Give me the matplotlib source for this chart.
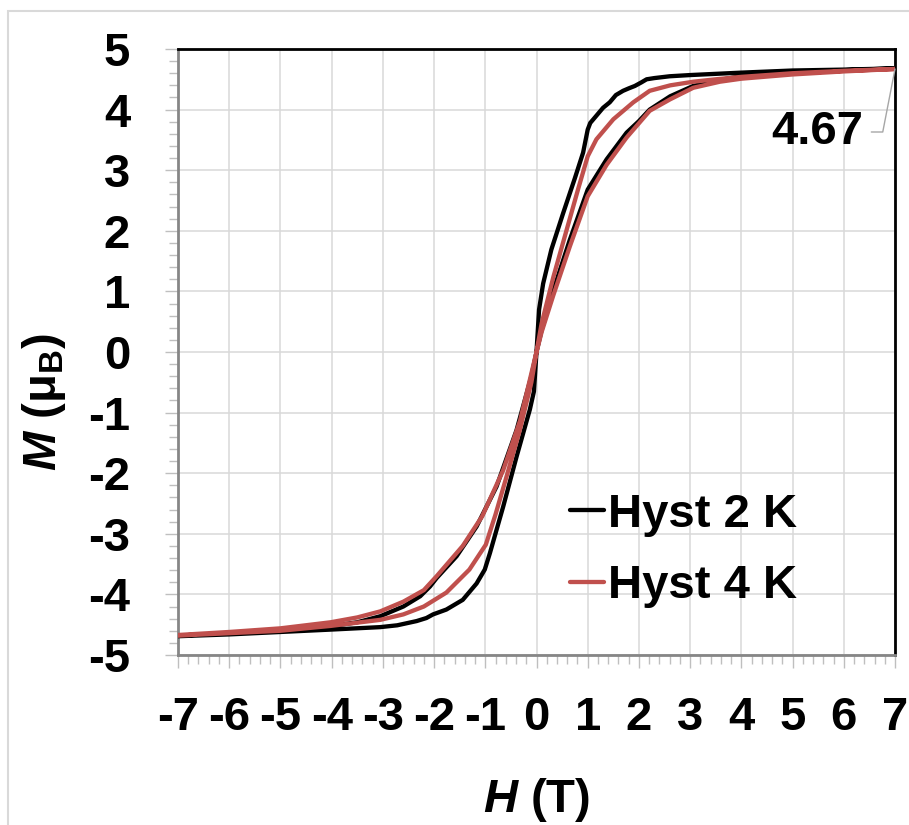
import numpy as np
import matplotlib
matplotlib.use("Agg")
import matplotlib.pyplot as plt
from matplotlib.ticker import MultipleLocator
from matplotlib.patches import Rectangle

plt.rcParams['font.family'] = ['Liberation Sans', 'DejaVu Sans']
plt.rcParams['font.weight'] = 'bold'
plt.rcParams['axes.unicode_minus'] = False
plt.rcParams['mathtext.fontset'] = 'custom'
plt.rcParams['mathtext.rm'] = 'Liberation Sans:bold'
plt.rcParams['mathtext.it'] = 'Liberation Sans:italic:bold'
plt.rcParams['mathtext.bf'] = 'Liberation Sans:bold'

# 2 K loop: field sweep 7 T -> -7 T, then back up to 7 T
h_2k_down = [7, 6, 5, 4, 3.5, 3, 2.6, 2.3, 2.15, 2.05, 1.92, 1.8, 1.69, 1.55, 1.43, 1.3,
             1.16, 1.05, 1.0, 0.91, 0.75, 0.52, 0.29, 0.13, 0.05, 0.0,
             -0.1, -0.39, -0.78, -1.17, -1.56, -1.95, -2.08, -2.27, -2.6, -3.05, -3.5,
             -4, -5, -6, -7]
m_2k_down = [4.68, 4.66, 4.645, 4.61, 4.59, 4.57, 4.55, 4.52, 4.50, 4.45, 4.39, 4.35, 4.31, 4.24, 4.12, 4.03,
             3.89, 3.78, 3.67, 3.29, 2.87, 2.29, 1.69, 1.13, 0.70, 0.0,
             -0.40, -1.29, -2.22, -2.88, -3.37, -3.73, -3.87, -4.03, -4.20, -4.36, -4.46,
             -4.52, -4.59, -4.64, -4.68]
h_2k_up = [-7, -6, -5, -4, -3.05, -2.72, -2.34, -2.15, -2.02, -1.76, -1.44, -1.17, -1.01, -0.91,
           -0.65, -0.39, -0.13, -0.05, 0.0,
           0.1, 0.33, 0.65, 1.0, 1.37, 1.76, 2.0, 2.21, 2.61, 3.06, 3.58, 4, 5, 6, 7]
m_2k_up = [-4.69, -4.66, -4.62, -4.58, -4.54, -4.51, -4.44, -4.39, -4.33, -4.25, -4.09, -3.82, -3.59, -3.32,
           -2.55, -1.73, -0.95, -0.65, 0.0,
           0.36, 1.02, 1.85, 2.68, 3.18, 3.62, 3.81, 4.00, 4.22, 4.39, 4.49, 4.55, 4.61, 4.65, 4.68]

# 4 K loop
h_4k_down = [7, 6, 5, 4, 3.5, 3.06, 2.61, 2.21, 1.89, 1.5, 1.17, 1.0, 0.81, 0.59, 0.33, 0.1, 0.0,
             -0.32, -0.65, -1.06, -1.44, -1.95, -2.2, -2.6, -3.05, -3.5, -4.02, -5, -6, -7]
m_4k_down = [4.67, 4.64, 4.60, 4.54, 4.50, 4.46, 4.40, 4.31, 4.12, 3.84, 3.51, 3.23, 2.68, 2.02, 1.24, 0.47, 0.0,
             -1.13, -1.95, -2.71, -3.20, -3.70, -3.93, -4.12, -4.28, -4.38, -4.46, -4.56, -4.62, -4.67]
h_4k_up = [-7, -6, -5, -4.02, -3.05, -2.6, -2.2, -1.76, -1.31, -0.99, -0.8, -0.6, -0.33, -0.1, 0.0,
           0.1, 0.33, 0.65, 1.0, 1.37, 1.76, 2.21, 2.61, 3.06, 3.58, 4, 5, 6, 7]
m_4k_up = [-4.68, -4.64, -4.60, -4.52, -4.42, -4.33, -4.20, -3.97, -3.59, -3.18, -2.68, -2.10, -1.30, -0.50, 0.0,
           0.33, 0.94, 1.74, 2.57, 3.09, 3.54, 3.98, 4.17, 4.36, 4.46, 4.51, 4.58, 4.63, 4.67]

labels = ["Hyst 2 K", "Hyst 4 K"]
colors = ["black", "#C0504D"]
m_sat = 4.67

FS = 34

fig = plt.figure(figsize=(9.09, 8.25), dpi=100)
W, H = 909, 825
ax = fig.add_axes([178 / W, 1 - 655 / H, (895 - 178) / W, (655 - 49) / H])

loops = [(h_2k_down + h_2k_up, m_2k_down + m_2k_up),
         (h_4k_down + h_4k_up, m_4k_down + m_4k_up)]
for (h, m), lab, c in zip(loops, labels, colors):
    ax.plot(h, m, color=c, lw=3.1, label=lab,
            solid_joinstyle='round', solid_capstyle='round', zorder=3)

ax.set_xlim(-7, 7)
ax.set_ylim(-5, 5)
ax.set_xticks(np.arange(-7, 8, 1))
ax.set_yticks(np.arange(-5, 6, 1))
ax.xaxis.set_minor_locator(MultipleLocator(0.2))
ax.yaxis.set_minor_locator(MultipleLocator(0.2))
ax.grid(True, which='major', color='#d9d9d9', lw=1.1, zorder=0)
ax.set_axisbelow(True)

ax.tick_params(which='major', direction='out', length=9.5, width=1.0, color='#bfbfbf',
               labelsize=FS)
ax.tick_params(which='minor', direction='out', length=6.5, width=1.0, color='#bfbfbf')
ax.tick_params(axis='x', which='major', pad=20)
ax.tick_params(axis='y', which='major', pad=25)

for s in ['top', 'right']:
    ax.spines[s].set_color('black')
    ax.spines[s].set_linewidth(2.0)
for s in ['left', 'bottom']:
    ax.spines[s].set_color('#868686')
    ax.spines[s].set_linewidth(2.0)

fig.text(44 / W, 1 - 402 / H, r'$\mathit{M}$ (μ$_\mathrm{B}$)', rotation=90,
         ha='center', va='center', fontsize=FS, fontweight='bold')
fig.text(537 / W, 1 - 800 / H, r'$\mathit{H}$ (T)', ha='center', va='center',
         fontsize=FS, fontweight='bold')

# saturation value label with leader line
ax.annotate(f"{m_sat:.2f}", xy=(7, m_sat), xytext=(-32, -63), textcoords='offset pixels',
            ha='right', va='center', fontsize=FS, fontweight='bold',
            arrowprops=dict(arrowstyle='-', color='#a6a6a6', lw=1.0, relpos=(1, 0.5),
                            shrinkA=4, shrinkB=0,
                            connectionstyle='angle,angleA=0,angleB=79,rad=0'))

leg = ax.legend(loc='upper left', bbox_to_anchor=(570 / W, 1 - 493 / H),
                bbox_transform=fig.transFigure, frameon=False, fontsize=FS,
                handlelength=0.72, handletextpad=0.08, labelspacing=0.58,
                borderpad=0, borderaxespad=0)

fig.patches.append(Rectangle((8 / W, -0.1), 1.2, 1 - 11 / H + 0.1, transform=fig.transFigure,
                             fill=False, ec='#d9d9d9', lw=1.5))

fig.savefig("out.png", dpi=100)
